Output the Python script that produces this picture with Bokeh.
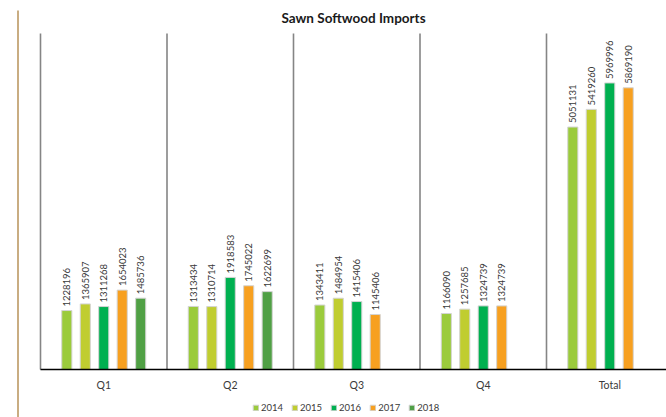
import math
from bokeh.plotting import figure
from bokeh.models import (Range1d, ColumnDataSource, FixedTicker, LinearAxis, Label,
                          Legend, LegendItem)
from bokeh.core.properties import value
from bokeh.embed import file_html
from bokeh.resources import INLINE

# ---- data ----
categories = ["Q1", "Q2", "Q3", "Q4", "Total"]
years = ["2014", "2015", "2016", "2017", "2018"]
v2014 = [1228196, 1313434, 1343411, 1166090, 5051131]
v2015 = [1365907, 1310714, 1484954, 1257685, 5419260]
v2016 = [1311268, 1918583, 1415406, 1324739, 5969996]
v2017 = [1654023, 1745022, 1145406, 1324739, 5869190]
v2018 = [1485736, 1622699, None, None, None]
series = [v2014, v2015, v2016, v2017, v2018]
colors = ["#9bcb3c", "#c0cd30", "#00b050", "#f7a020", "#50a045"]

W, H = 666, 417
left_px, cat_px, base_px, top_px = 40, 126.5, 48, 33   # layout (pixels)
y_max = 7_000_000
upp = y_max / (H - base_px - top_px)                   # data units per pixel (y)

p = figure(width=W, height=H, output_backend="svg", toolbar_location=None,
           title=None, min_border=0,
           x_range=Range1d(-left_px / cat_px, (W - left_px) / cat_px),
           y_range=Range1d(-base_px * upp, (H - base_px) * upp))
p.outline_line_color = None
p.xaxis.visible = False
p.yaxis.visible = False
p.xgrid.visible = False
p.ygrid.visible = False
p.background_fill_color = "white"
p.border_fill_color = "white"

# left decorative tan rule
p.segment(x0=[(17.5 - left_px) / cat_px], x1=[(17.5 - left_px) / cat_px],
          y0=[-base_px * upp], y1=[(H - base_px - 10) * upp],
          line_color="#c9ad82", line_width=2)

# category separators
ncat = len(categories)
p.segment(x0=list(range(ncat)), x1=list(range(ncat)),
          y0=[0] * ncat, y1=[y_max] * ncat, line_color="#858585", line_width=1.6)

# bars
step = 0.146
bw = 0.08
items = []
for j, (yr, vals, c) in enumerate(zip(years, series, colors)):
    xs, ys, labs = [], [], []
    for i, v in enumerate(vals):
        if v is None:
            continue
        xs.append(i + 0.5 + (j - 2) * step)
        ys.append(v)
        labs.append(str(v))
    src = ColumnDataSource(dict(x=xs, top=ys, lab=labs))
    r = p.vbar(x="x", top="top", width=bw, bottom=0, source=src,
               fill_color=c, line_color="#d4d4d4", line_width=1)
    p.text(x="x", y="top", text="lab", source=src, angle=math.pi / 2,
           text_align="left", text_baseline="middle", y_offset=-4,
           text_font=value("Lato"), text_font_size="9.5px", text_color="#3a3a3a")
    items.append(LegendItem(label=yr, renderers=[r]))

# x axis at baseline
ax = LinearAxis(fixed_location=0, bounds=(0, (W - left_px) / cat_px))
ax.ticker = FixedTicker(ticks=[i + 0.5 for i in range(ncat)])
ax.major_label_overrides = {i + 0.5: c for i, c in enumerate(categories)}
ax.axis_line_color = "black"
ax.axis_line_width = 1.5
ax.major_tick_out = 0
ax.major_tick_in = 0
ax.minor_tick_out = 0
ax.minor_tick_in = 0
ax.major_label_standoff = 9
ax.major_label_text_font = "Lato"
ax.major_label_text_font_size = "10.5px"
ax.major_label_text_color = "#3a3a3a"
p.add_layout(ax, "below")

# title
p.add_layout(Label(x=353, y=H - 17, x_units="screen", y_units="screen",
                   text="Sawn Softwood Imports", text_align="center",
                   text_baseline="middle", text_font="Lato",
                   text_font_style="bold", text_font_size="13.5px",
                   text_color="#1a1a1a"))

legend = Legend(items=items, orientation="horizontal", location=(252, 4),
                glyph_width=7, glyph_height=7, label_standoff=2, spacing=8,
                padding=0, margin=0, border_line_color=None,
                background_fill_alpha=0, label_text_font="Lato",
                label_text_font_size="9.5px", label_text_color="#3a3a3a",
                label_height=10)
p.add_layout(legend)

open("out.html", "w").write(file_html(p, INLINE))
